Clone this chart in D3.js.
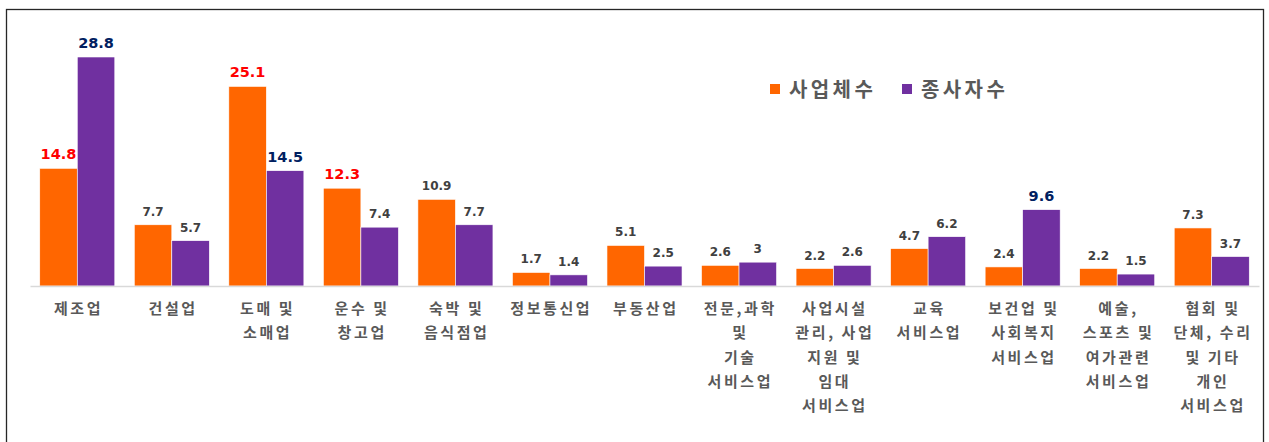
<!DOCTYPE html>
<html><head><meta charset="utf-8">
<script src="https://cdn.jsdelivr.net/npm/d3@7"></script>
<style>
html,body{margin:0;padding:0;background:#fff;}
svg{display:block;}
</style></head>
<body>
<svg id="chart" width="1269" height="442"></svg>
<script>
const categories = [
  "제조업", "건설업", "도매 및\n소매업", "운수 및\n창고업", "숙박 및\n음식점업",
  "정보통신업", "부동산업", "전문,과학\n및\n기술\n서비스업",
  "사업시설\n관리, 사업\n지원 및\n임대\n서비스업", "교육\n서비스업",
  "보건업 및\n사회복지\n서비스업", "예술,\n스포츠 및\n여가관련\n서비스업",
  "협회 및\n단체, 수리\n및 기타\n개인\n서비스업"
];
const seriesNames = ["사업체수", "종사자수"];
const establishments = [14.8, 7.7, 25.1, 12.3, 10.9, 1.7, 5.1, 2.6, 2.2, 4.7, 2.4, 2.2, 7.3];
const employees = [28.8, 5.7, 14.5, 7.4, 7.7, 1.4, 2.5, 3, 2.6, 6.2, 9.6, 1.5, 3.7];

const colors = ["#FF6600", "#7030A0"];
const hiColors = ["#FF0000", "#002060"];
const seriesValues = [establishments, employees];

const svg = d3.select("#chart");

// frame
svg.append("rect").attr("x", 6.5).attr("y", 9.5).attr("width", 1257).attr("height", 450)
  .attr("fill", "none").attr("stroke", "#262626").attr("stroke-width", 1.3);

const x0 = d3.scaleBand().domain(categories).range([30, 1259]).padding(0);
const x1 = d3.scaleBand().domain(seriesNames).range([9.75, x0.bandwidth() - 9.75]).padding(0);
const y = d3.scaleLinear().domain([0, 28.8]).range([286, 57]);

const data = categories.map((c, i) => ({cat: c, vals: seriesNames.map((s, j) => ({s, j, v: seriesValues[j][i]}))}));

// top-3 highlight per series
const top3 = seriesValues.map(arr => arr.slice().sort((a, b) => b - a).slice(0, 3));

const g = svg.append("g");
const groups = g.selectAll("g.grp").data(data).join("g")
  .attr("transform", d => `translate(${x0(d.cat)},0)`);

groups.selectAll("rect").data(d => d.vals).join("rect")
  .attr("x", d => x1(d.s))
  .attr("width", x1.bandwidth())
  .attr("y", d => y(d.v))
  .attr("height", d => y(0) - y(d.v))
  .attr("fill", d => colors[d.j])
  .attr("stroke", "#fff").attr("stroke-width", 0.6);

groups.selectAll("text.val").data(d => d.vals).join("text")
  .attr("class", "val")
  .attr("x", d => x1(d.s) + x1.bandwidth() / 2)
  .attr("y", d => y(d.v) - 9)
  .attr("text-anchor", "middle")
  .attr("font-family", "DejaVu Sans, Verdana, sans-serif")
  .attr("font-weight", "bold")
  .attr("font-size", d => top3[d.j].includes(d.v) ? "14.5px" : "12px")
  .attr("fill", d => top3[d.j].includes(d.v) ? hiColors[d.j] : "#404040")
  .text(d => d.v);

// axis
const axis = d3.axisBottom(x0).tickSize(0).tickFormat("");
const ax = svg.append("g").attr("transform", "translate(0,286)").call(axis);
ax.select(".domain").attr("stroke", "#D9D9D9").attr("stroke-width", 1.5);

// category labels
const labels = svg.append("g");
categories.forEach(c => {
  const cx = x0(c) + x0.bandwidth() / 2;
  const t = labels.append("text")
    .attr("x", cx)
    .attr("y", 314)
    .attr("text-anchor", "middle")
    .attr("font-family", "'Noto Sans CJK KR', sans-serif")
    .attr("font-weight", "bold")
    .attr("font-size", "15px")
    .attr("letter-spacing", "2.6px")
    .attr("fill", "#595959");
  c.split("\n").forEach((line, k) => {
    t.append("tspan").attr("x", cx + 1.3).attr("y", 314 + k * 24.3).text(line);
  });
});

// legend
const legend = svg.append("g");
const legX = [770, 902];
seriesNames.forEach((s, j) => {
  legend.append("rect").attr("x", legX[j]).attr("y", 84).attr("width", 10).attr("height", 10).attr("fill", colors[j]);
  legend.append("text").attr("x", legX[j] + 19).attr("y", 97)
    .attr("font-family", "'Noto Sans CJK KR', sans-serif")
    .attr("font-weight", "bold").attr("font-size", "20px")
    .attr("letter-spacing", "3.4px")
    .attr("fill", "#595959").text(s);
});
</script>
</body></html>
